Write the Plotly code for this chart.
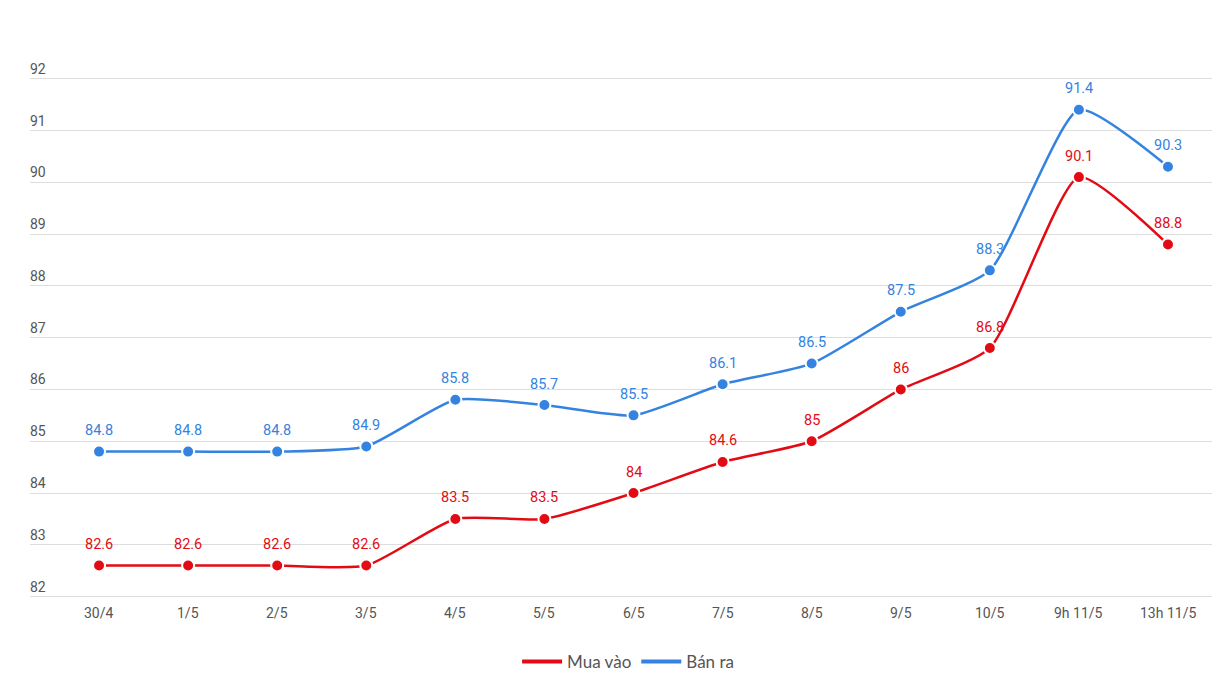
import plotly.graph_objects as go

categories = ["30/4", "1/5", "2/5", "3/5", "4/5", "5/5", "6/5", "7/5", "8/5", "9/5", "10/5", "9h 11/5", "13h 11/5"]
mua_vao = [82.6, 82.6, 82.6, 82.6, 83.5, 83.5, 84, 84.6, 85, 86, 86.8, 90.1, 88.8]
ban_ra = [84.8, 84.8, 84.8, 84.9, 85.8, 85.7, 85.5, 86.1, 86.5, 87.5, 88.3, 91.4, 90.3]
y_ticks = [82, 83, 84, 85, 86, 87, 88, 89, 90, 91, 92]

RED = "#e30b13"
BLUE = "#3583e0"
GREY = "#555555"

xs = list(range(len(categories)))
fig = go.Figure()
annotations = []
for name, vals, col in [("Mua vào", mua_vao, RED), ("Bán ra", ban_ra, BLUE)]:
    fig.add_trace(go.Scatter(
        x=xs, y=vals, name=name, showlegend=False,
        mode="lines+markers",
        line=dict(color=col, width=2.5, shape="spline", smoothing=0.55),
        marker=dict(color=col, size=12, line=dict(color="white", width=2)),
        cliponaxis=False,
    ))
    # legend-only entry (line sample)
    fig.add_trace(go.Scatter(
        x=[None], y=[None], name=name, mode="lines",
        line=dict(color=col, width=4),
    ))
    for x, v in zip(xs, vals):
        annotations.append(dict(
            x=x, y=v, text=f"{v:g}", showarrow=False, yshift=21,
            font=dict(color=col, size=14.5, family="Roboto"),
        ))

# y-axis labels sitting above their gridlines, left-aligned
for t in y_ticks:
    annotations.append(dict(
        xref="paper", x=0, y=t, text=str(t), showarrow=False,
        xanchor="left", yanchor="bottom", yshift=0, xshift=-2,
        font=dict(color=GREY, size=14, family="Roboto"),
    ))

# category labels under the bottom gridline
for x, c in zip(xs, categories):
    annotations.append(dict(
        x=x, y=y_ticks[0], text=c, showarrow=False, yshift=-16, yanchor="middle",
        font=dict(color=GREY, size=14, family="Roboto"),
    ))

fig.update_layout(
    width=1232, height=692,
    paper_bgcolor="white", plot_bgcolor="white",
    margin=dict(l=22, r=28, t=50, b=93),
    font=dict(family="Roboto", color=GREY, size=14),
    showlegend=True,
    annotations=annotations,
    legend=dict(orientation="h", x=0.506, xanchor="center", yref="container", y=0.055, yanchor="middle",
                font=dict(family="Lato", size=17, color=GREY), itemwidth=40),
    xaxis=dict(
        range=[-0.775, 12.494], showgrid=False, zeroline=False, showline=False,
        ticks="", showticklabels=False,
    ),
    yaxis=dict(
        range=[81.8, 92.4], tickvals=y_ticks, showgrid=True, gridcolor="#dddddd", gridwidth=1,
        zeroline=False, showline=False, ticks="", showticklabels=False,
    ),
)

fig.write_html("out.html")
